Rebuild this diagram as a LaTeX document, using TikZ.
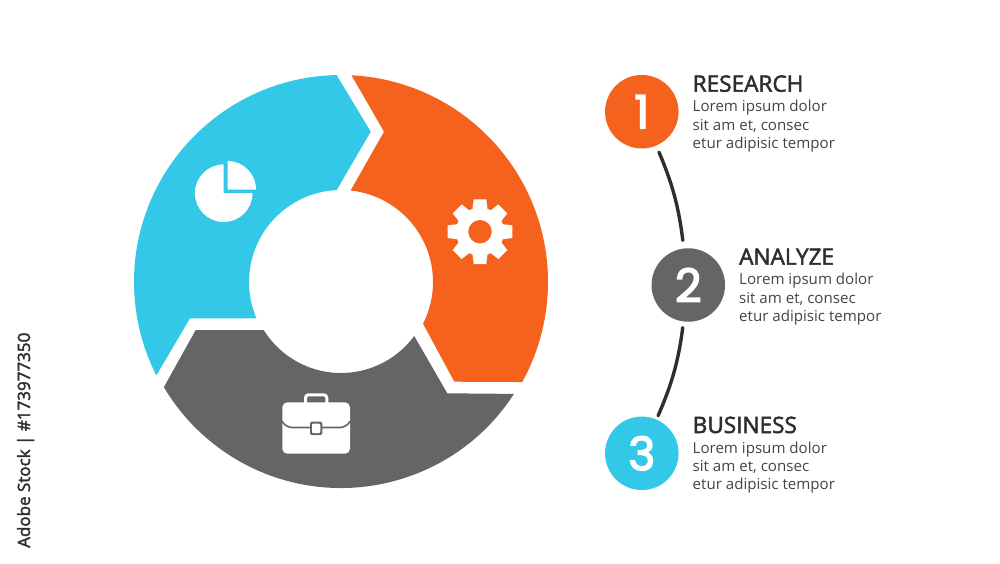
\documentclass[tikz,border=0pt]{standalone}
\usepackage{fontspec}
\setmainfont{Open Sans}
\newfontfamily\numfont[FakeBold=3.2]{Poppins}
\newfontfamily\headfont[FakeBold=2.2]{Open Sans}
\definecolor{skyblue}{HTML}{33C8E8}
\definecolor{burnt}{HTML}{F4621E}
\definecolor{slate}{HTML}{656565}
\definecolor{ink}{HTML}{2E2E2E}
\definecolor{bodyink}{HTML}{444444}
\tikzset{
    numdot/.style={circle, minimum size=73.5pt, inner sep=0pt, text=white, font=\numfont\fontsize{46}{46}\selectfont},
    heading/.style={anchor=base west, inner sep=0pt, text=ink, font=\headfont\fontsize{22.6}{24}\selectfont},
    blurb/.style={anchor=north west, inner sep=0pt, align=left, text=bodyink, font=\fontsize{15.1}{18.3}\selectfont},
    link/.style={draw=ink, line width=3.4pt, line cap=round, shorten <=7pt, shorten >=8pt}
}
\begin{document}
\begin{tikzpicture}[x=1pt, y=1pt]
    \useasboundingbox (0,0) rectangle (1000,-563);

    % Ring
    \begin{scope}[shift={(341,-282)}]
        \fill[skyblue] (91.2:207) arc[start angle=91.2, end angle=206.85, radius=207] -- (-151,-36.3)
            -- (203.3:92) arc[start angle=203.3, end angle=92.7, radius=92] -- (29.7,150.3) -- cycle;
        \fill[burnt] (87.1:207) arc[start angle=87.1, end angle=-28.9, radius=207] -- (113.3,-99.7)
            -- (-26.9:92) arc[start angle=-26.9, end angle=84, radius=92] -- (43,150.3) -- cycle;
        \fill[slate] (-32.9:206) arc[start angle=-32.9, end angle=-149.3, radius=206] -- (-145.3,-48)
            -- (212:91) arc[start angle=212, end angle=323.6, radius=91] -- (106.3,-111.3) -- cycle;
    \end{scope}

    % Pie icon
    \fill[white] (223.7,-193.2) -- (223.7,-164.4) arc[start angle=90, end angle=360, radius=28.8] -- cycle;
    \fill[white] (227.5,-189.5) -- (227.5,-161) arc[start angle=90, end angle=0, radius=28.5] -- cycle;

    % Gear icon
    \fill[white] (480,-231.7) circle (24);
    \foreach \a in {0,45,...,315} {
        \fill[white, rotate around={\a:(480,-231.7)}] (472,-213) -- (473.7,-199.4) -- (486.3,-199.4) -- (488,-213) -- cycle;
    }
    \fill[burnt] (480,-231.7) circle (11.7);

    % Briefcase icon
    \draw[white, line width=3pt, rounded corners=3pt] (305.5,-403) -- (305.5,-394.8) -- (326.8,-394.8) -- (326.8,-403);
    \fill[white, rounded corners=5pt] (282.3,-402.3) rectangle (350,-453.7);
    \draw[slate, line width=1.6pt, rounded corners=6pt] (282,-421) -- (286,-427.5) -- (346,-427.5) -- (350.3,-421);
    \fill[slate, rounded corners=1.5pt] (310,-421.7) rectangle (322.3,-435);
    \fill[white, rounded corners=1pt] (312,-423.7) rectangle (320.3,-433);

    % Nodes
    \node[numdot, fill=burnt] (N1) at (641.8,-111.7) {1};
    \node[numdot, fill=slate] (N2) at (688.3,-285) {2};
    \node[numdot, fill=skyblue] (N3) at (641.8,-453.3) {3};

    \node[heading] (R) at (692.5,-91.7) {RESEARCH};
    \node[blurb] (R1) at (692.5,-100.1) {Lorem ipsum dolor\\sit am et, consec\\etur adipisic tempor};
    \node[heading] (A) at (739,-264.7) {ANALYZE};
    \node[blurb] (A1) at (739,-273.1) {Lorem ipsum dolor\\sit am et, consec\\etur adipisic tempor};
    \node[heading] (B) at (692.5,-433) {BUSINESS};
    \node[blurb] (B1) at (692.5,-441.4) {Lorem ipsum dolor\\sit am et, consec\\etur adipisic tempor};

    \node[rotate=90, anchor=base west, inner sep=0pt, text=ink, font=\headfont\fontsize{17}{20}\selectfont] (C) at (30,-548) {Adobe Stock | \#173977350};

    % Edges
    \path[link] (N1) to[bend left=8] (N2);
    \path[link, shorten <=6pt, shorten >=4pt] (N2) to[bend left=8] (N3);
\end{tikzpicture}
\end{document}
